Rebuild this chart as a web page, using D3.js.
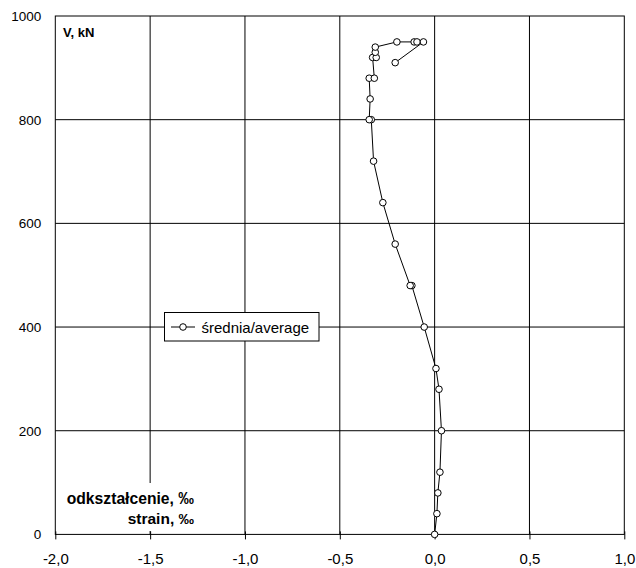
<!DOCTYPE html>
<html><head><meta charset="utf-8">
<script src="https://cdn.jsdelivr.net/npm/d3@7"></script>
<style>body{margin:0;background:#fff}svg{display:block}text{font-family:"Liberation Sans",Arial,sans-serif;fill:#000}</style>
</head><body>
<script>
const strain = [0.000, 0.012, 0.017, 0.028, 0.036, 0.023, 0.007, -0.055, -0.120, -0.129, -0.208, -0.273, -0.322, -0.334, -0.345, -0.340, -0.345, -0.318, -0.327, -0.308, -0.313, -0.313, -0.199, -0.108, -0.093, -0.059, -0.208];
const load   = [0, 40, 80, 120, 200, 280, 320, 400, 480, 480, 560, 640, 720, 800, 800, 840, 880, 880, 920, 920, 930, 940, 950, 950, 950, 950, 910];
const xTicks = [-2, -1.5, -1, -0.5, 0, 0.5, 1];
const xTickLabels = ["-2,0", "-1,5", "-1,0", "-0,5", "0,0", "0,5", "1,0"];
const yTicks = [0, 200, 400, 600, 800, 1000];
const seriesName = "średnia/average";

const W = 636, H = 568;
const svg = d3.select("body").append("svg").attr("width", W).attr("height", H);
const x = d3.scaleLinear().domain([-2, 1]).range([55.3, 624.3]);
const y = d3.scaleLinear().domain([0, 1000]).range([534.4, 16]);

// gridlines
svg.append("g").selectAll("line").data(xTicks.slice(1, -1)).join("line")
  .attr("x1", d => x(d)).attr("x2", d => x(d)).attr("y1", y(0)).attr("y2", y(1000))
  .attr("stroke", "#000").attr("stroke-width", 1);
svg.append("g").selectAll("line").data(yTicks.slice(1, -1)).join("line")
  .attr("x1", x(-2)).attr("x2", x(1)).attr("y1", d => y(d)).attr("y2", d => y(d))
  .attr("stroke", "#000").attr("stroke-width", 1);
// plot border
svg.append("rect").attr("x", x(-2)).attr("y", y(1000)).attr("width", x(1) - x(-2)).attr("height", y(0) - y(1000))
  .attr("fill", "none").attr("stroke", "#000").attr("stroke-width", 1);

// axis title box (covers gridlines)
svg.append("rect").attr("x", x(-2) + 1).attr("y", 483).attr("width", 145).attr("height", 48).attr("fill", "#fff");

// x axis ticks & labels
const xAxis = d3.axisBottom(x).tickValues(xTicks).tickFormat((d, i) => xTickLabels[i]).tickSize(5).tickPadding(14);
const gx = svg.append("g").attr("transform", `translate(0,${y(0)})`).call(xAxis);
gx.select(".domain").remove();
gx.selectAll(".tick line").attr("y1", -3).attr("stroke", "#000");
gx.selectAll(".tick text").attr("font-size", 15).attr("font-family", "Liberation Sans, Arial, sans-serif").attr("fill", "#000");

// y axis labels
const yAxis = d3.axisLeft(y).tickValues(yTicks).tickFormat(d3.format("d")).tickSize(0).tickPadding(14);
const gy = svg.append("g").attr("transform", `translate(${x(-2)},0)`).call(yAxis);
gy.select(".domain").remove();
gy.selectAll(".tick text").attr("font-size", 13.5).attr("font-family", "Liberation Sans, Arial, sans-serif").attr("fill", "#000");

// axis titles
svg.append("text").attr("x", 63).attr("y", 37).attr("font-size", 13).attr("font-weight", "bold").text("V, kN");
svg.append("text").attr("x", 194).attr("y", 504).attr("text-anchor", "end").attr("font-size", 15.7).attr("font-weight", "bold").text("odkształcenie, ‰");
svg.append("text").attr("x", 194).attr("y", 524).attr("text-anchor", "end").attr("font-size", 15.5).attr("font-weight", "bold").text("strain, ‰");

// series
const pts = strain.map((s, i) => [s, load[i]]);
svg.append("path").datum(pts)
  .attr("d", d3.line().x(d => x(d[0])).y(d => y(d[1])))
  .attr("fill", "none").attr("stroke", "#000").attr("stroke-width", 1);
svg.append("g").selectAll("circle").data(pts).join("circle")
  .attr("cx", d => x(d[0])).attr("cy", d => y(d[1])).attr("r", 3.3)
  .attr("fill", "#fff").attr("stroke", "#000").attr("stroke-width", 1);

// legend
const lg = svg.append("g");
lg.append("rect").attr("x", 164.5).attr("y", 312.5).attr("width", 154.5).attr("height", 28.5)
  .attr("fill", "#fff").attr("stroke", "#000").attr("stroke-width", 1);
lg.append("line").attr("x1", 171).attr("x2", 195).attr("y1", 327).attr("y2", 327).attr("stroke", "#000");
lg.append("circle").attr("cx", 183).attr("cy", 327).attr("r", 3.3).attr("fill", "#fff").attr("stroke", "#000");
lg.append("text").attr("x", 201.5).attr("y", 332.5).attr("font-size", 15).text(seriesName);
</script>
</body></html>
